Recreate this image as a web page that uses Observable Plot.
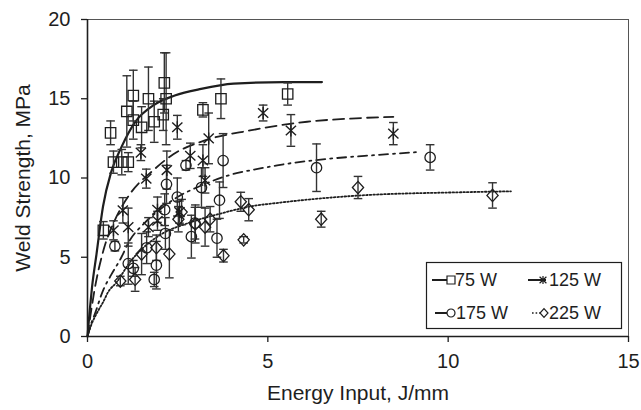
<!DOCTYPE html>
<html><head><meta charset="utf-8">
<script src="https://cdn.jsdelivr.net/npm/d3@7"></script>
<script src="https://cdn.jsdelivr.net/npm/@observablehq/plot@0.6"></script>
<style>
body{margin:0;background:#fff;}
#wrap{position:relative;width:641px;height:410px;font-family:"Liberation Sans",Arial,sans-serif;}
#legend{position:absolute;left:0;top:0;pointer-events:none;}
</style></head><body><div id="wrap"></div>
<script>
// ---- Data ----
const xTicks = [0, 5, 10, 15];
const yTicks = [0, 5, 10, 15, 20];
const seriesNames = ["75 W", "125 W", "175 W", "225 W"];

// 75 W (squares)
const x75 = [0.44, 0.64, 0.72, 0.95, 1.13, 1.09, 1.27, 1.27, 1.50, 1.69, 1.85, 2.13, 2.18, 2.10, 3.20, 3.70, 5.55];
const y75 = [6.7, 12.85, 11.0, 11.0, 11.0, 14.2, 15.2, 13.65, 13.2, 15.0, 13.55, 16.0, 15.0, 14.0, 14.3, 15.0, 15.3];
const e75 = [0.55, 0.75, 0.7, 0.8, 0.6, 2.25, 1.6, 1.2, 1.3, 2.0, 1.3, 1.9, 2.9, 1.0, 0.45, 1.25, 0.7];
// 125 W (asterisks)
const x125 = [0.72, 0.98, 1.13, 1.48, 1.63, 1.69, 1.94, 1.94, 2.20, 2.49, 2.55, 2.85, 3.20, 3.26, 3.36, 4.87, 5.64, 8.48];
const y125 = [6.7, 7.96, 6.9, 11.6, 9.96, 6.9, 8.0, 7.3, 10.5, 13.2, 7.85, 11.4, 11.1, 9.85, 12.5, 14.1, 13.0, 12.8];
const e125 = [0.6, 0.8, 1.2, 0.5, 0.6, 0.6, 0.8, 0.6, 1.2, 0.75, 0.7, 0.8, 1.0, 0.8, 1.6, 0.5, 1.0, 0.7];
// 175 W (circles)
const x175 = [0.76, 1.13, 1.27, 1.64, 1.85, 1.91, 2.14, 2.19, 2.16, 2.49, 2.73, 2.88, 2.98, 3.16, 3.59, 3.66, 3.76, 6.35, 9.50];
const y175 = [5.7, 4.6, 4.3, 5.6, 3.6, 4.5, 8.0, 9.6, 6.5, 8.8, 10.8, 6.3, 7.15, 9.4, 6.2, 8.6, 11.1, 10.65, 11.3];
const e175 = [0.3, 1.3, 0.5, 1.0, 0.45, 1.5, 1.0, 1.2, 1.0, 1.2, 0.3, 1.35, 1.0, 1.25, 1.2, 1.15, 1.7, 1.5, 0.8];
// 225 W (diamonds)
const x225 = [0.91, 1.32, 1.50, 1.91, 2.27, 2.52, 2.61, 2.99, 3.26, 3.40, 3.77, 4.25, 4.47, 4.33, 6.48, 7.50, 11.23];
const y225 = [3.5, 3.6, 5.2, 5.6, 5.2, 7.4, 7.85, 7.1, 6.9, 7.4, 5.1, 8.5, 8.0, 6.1, 7.4, 9.4, 8.9];
const e225 = [0.3, 0.75, 1.3, 0.8, 1.5, 0.8, 0.8, 1.2, 1.2, 0.8, 0.4, 0.6, 0.7, 0.2, 0.5, 0.7, 0.8];

// Fitted trend curves
const c75x = [0, 0.06, 0.125, 0.25, 0.43, 0.66, 0.94, 1.31, 1.87, 2.42, 3.15, 4.05, 5.44, 6.5];
const c75y = [0, 1.6, 3.1, 5.2, 8.2, 10.4, 11.95, 13.5, 14.65, 15.2, 15.62, 15.95, 16.05, 16.05];
const c125x = [0, 0.1, 0.2, 0.45, 0.75, 1.18, 1.83, 2.38, 3.16, 4.51, 6.09, 7.3, 8.48];
const c125y = [0, 1.6, 3.0, 5.5, 7.3, 9.0, 10.5, 11.5, 12.3, 13.0, 13.55, 13.75, 13.86];
const c175x = [0, 0.1, 0.2, 0.43, 0.66, 0.94, 1.13, 1.6, 2.0, 2.57, 3.03, 3.96, 4.79, 5.26, 6.64, 8.0, 9.24];
const c175y = [0, 0.8, 1.4, 2.9, 3.9, 5.0, 5.9, 7.2, 8.0, 8.9, 9.4, 10.2, 10.6, 10.8, 11.2, 11.45, 11.65];
const c225x = [0, 0.1, 0.29, 0.44, 0.57, 0.8, 1.18, 1.5, 2.01, 2.85, 3.68, 4.51, 5.35, 7.57, 10.35, 11.74];
const c225y = [0, 0.7, 1.6, 2.2, 2.8, 3.4, 4.7, 5.5, 6.4, 7.2, 7.75, 8.2, 8.45, 8.9, 9.1, 9.16];

// ---- Build tables ----
const pts = (xs, ys, es) => xs.map((x, i) => ({x, y: ys[i], e: es[i]}));
const crv = (xs, ys) => xs.map((x, i) => ({x, y: ys[i]}));
const p75 = pts(x75, y75, e75), p125 = pts(x125, y125, e125), p175 = pts(x175, y175, e175), p225 = pts(x225, y225, e225);
const allPts = [...p75, ...p125, ...p175, ...p225];

// ---- Symbols ----
const R = s => Math.sqrt(s / Math.PI);
const sqSym = {draw(c, s){const r = R(s); c.moveTo(-r,-r); c.lineTo(r,-r); c.lineTo(r,r); c.lineTo(-r,r); c.closePath();}};
const astSym = {draw(c, s){const r = R(s); c.moveTo(-r*0.85,-r*0.8); c.lineTo(r*0.85,r*0.8); c.moveTo(-r*0.85,r*0.8); c.lineTo(r*0.85,-r*0.8); c.moveTo(0,-r); c.lineTo(0,r);}};
const diaSym = {draw(c, s){const r = R(s); c.moveTo(0,-r*1.1); c.lineTo(r,0); c.lineTo(0,r*1.1); c.lineTo(-r,0); c.closePath();}};
const cirSym = {draw(c, s){const r = R(s); c.moveTo(r,0); c.arc(0,0,r,0,2*Math.PI);}};
const capSym = {draw(c, s){const r = R(s); c.moveTo(-r,0); c.lineTo(r,0);}};

const ink = "#1e1e1e", barInk = "#333";
const lineStyles = [
  {data: crv(c75x, c75y), dash: null, w: 2.2},
  {data: crv(c125x, c125y), dash: "11,6", w: 1.8},
  {data: crv(c175x, c175y), dash: "9,5,2,5", w: 1.8},
  {data: crv(c225x, c225y), dash: "1.6,2", w: 1.8}
];

const chart = Plot.plot({
  width: 641, height: 410,
  marginLeft: 87, marginRight: 13, marginTop: 19, marginBottom: 74,
  x: {domain: [0, 15], ticks: xTicks},
  y: {domain: [0, 20], ticks: yTicks},
  style: {fontFamily: "'Liberation Sans', Arial, sans-serif", fontSize: "20px", color: ink, background: "#fff", overflow: "visible"},
  marks: [
    Plot.frame({stroke: "#555", strokeWidth: 1}),
    ...lineStyles.map(L => Plot.line(L.data, {x: "x", y: "y", curve: "monotone-x", stroke: ink, strokeWidth: L.w, strokeDasharray: L.dash})),
    Plot.ruleX(allPts, {x: "x", y1: d => d.y - d.e, y2: d => d.y + d.e, stroke: barInk, strokeWidth: 1.4}),
    Plot.dot(allPts, {x: "x", y: d => d.y + d.e, symbol: capSym, r: 4.3, stroke: barInk, strokeWidth: 1.4, fill: "none"}),
    Plot.dot(allPts, {x: "x", y: d => d.y - d.e, symbol: capSym, r: 4.3, stroke: barInk, strokeWidth: 1.4, fill: "none"}),
    Plot.dot(p75, {x: "x", y: "y", symbol: sqSym, r: 5.2, stroke: ink, strokeWidth: 1.3, fill: "none"}),
    Plot.dot(p125, {x: "x", y: "y", symbol: astSym, r: 6, stroke: ink, strokeWidth: 1.4, fill: "none"}),
    Plot.dot(p175, {x: "x", y: "y", symbol: cirSym, r: 5.2, stroke: ink, strokeWidth: 1.3, fill: "none"}),
    Plot.dot(p225, {x: "x", y: "y", symbol: diaSym, r: 5.6, stroke: ink, strokeWidth: 1.3, fill: "none"}),
    Plot.ruleY([0], {stroke: ink, strokeWidth: 1.6}),
    Plot.ruleX([0], {stroke: ink, strokeWidth: 1.6}),
    Plot.axisX({ticks: xTicks, tickSize: 6, tickPadding: 11, label: null, stroke: ink, strokeWidth: 1.3, tickFormat: d => String(d)}),
    Plot.axisY({ticks: yTicks, tickSize: 6, tickPadding: 11, label: null, stroke: ink, strokeWidth: 1.3, tickFormat: d => String(d)}),
    Plot.text(["Energy Input, J/mm"], {text: d => d, frameAnchor: "bottom", textAnchor: "middle", lineAnchor: "middle", dy: 57, fontSize: 21, fill: ink}),
    Plot.text(["Weld Strength, MPa"], {text: d => d, frameAnchor: "left", textAnchor: "middle", lineAnchor: "middle", dx: -64, rotate: -90, fontSize: 21, fill: ink})
  ]
});
document.getElementById("wrap").appendChild(chart);

// ---- Legend (box inside plot area) ----
const lg = d3.select("#wrap").append("svg").attr("id", "legend").attr("width", 641).attr("height", 410);
lg.append("rect").attr("x", 426.5).attr("y", 262.5).attr("width", 195).attr("height", 66)
  .attr("fill", "#fff").attr("stroke", ink).attr("stroke-width", 1.2);
const legItems = [
  {name: seriesNames[0], lx1: 432, lx2: 455, mx: 451, ty: 280, tx: 455, sym: sqSym, dash: null, w: 2},
  {name: seriesNames[1], lx1: 528, lx2: 546, mx: 543, ty: 280, tx: 549, sym: astSym, dash: null, w: 2},
  {name: seriesNames[2], lx1: 435, lx2: 450, mx: 451, ty: 313, tx: 456, sym: cirSym, dash: null, w: 2},
  {name: seriesNames[3], lx1: 532, lx2: 541, mx: 544, ty: 313, tx: 549, sym: diaSym, dash: "1.6,2", w: 1.6}
];
legItems.forEach(it => {
  lg.append("line").attr("x1", it.lx1).attr("x2", it.lx2).attr("y1", it.ty).attr("y2", it.ty)
    .attr("stroke", ink).attr("stroke-width", it.w).attr("stroke-dasharray", it.dash);
  lg.append("path").attr("d", d3.symbol(it.sym, Math.PI * 16)()).attr("transform", `translate(${it.mx},${it.ty})`)
    .attr("fill", "#fff").attr("stroke", ink).attr("stroke-width", 1.2);
  lg.append("text").attr("x", it.tx).attr("y", it.ty).attr("dy", "0.35em")
    .attr("font-family", "'Liberation Sans', Arial, sans-serif").attr("font-size", 18).attr("fill", ink).text(it.name);
});
</script>
</body></html>
